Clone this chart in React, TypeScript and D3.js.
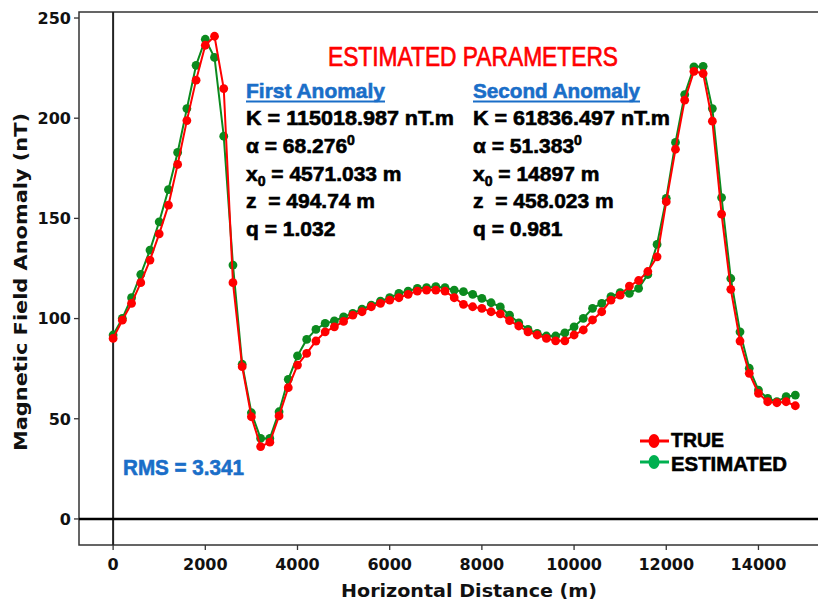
import React from "react";
import * as d3 from "d3";

const distance = [
  0, 200, 400, 600, 800, 1000, 1200, 1400, 1600, 1800, 2000, 2200, 2400, 2600, 2800,
  3000, 3200, 3400, 3600, 3800, 4000, 4200, 4400, 4600, 4800, 5000, 5200, 5400, 5600,
  5800, 6000, 6200, 6400, 6600, 6800, 7000, 7200, 7400, 7600, 7800, 8000, 8200, 8400,
  8600, 8800, 9000, 9200, 9400, 9600, 9800, 10000, 10200, 10400, 10600, 10800, 11000,
  11200, 11400, 11600, 11800, 12000, 12200, 12400, 12600, 12800, 13000, 13200, 13400,
  13600, 13800, 14000, 14200, 14400, 14600, 14800,
];

const trueValues = [
  90.1, 99.2, 107.6, 117.9, 129.2, 142.3, 156.6, 176.9, 198.8, 219, 236.4, 240.9, 214.8,
  117.9, 76, 51, 36.1, 38.3, 51.4, 65.5, 76.8, 82.6, 88.8, 93.4, 95.9, 98.6, 101.7, 103.4,
  105.9, 107.6, 109.2, 110.4, 112.1, 113.7, 114.2, 114.2, 113.7, 110.4, 107.1, 105.9,
  105.1, 103.4, 102.3, 99, 96.3, 93.4, 91.8, 90.1, 88.9, 88.9, 91.8, 94.3, 99.3, 103.4,
  109.2, 111.7, 116.2, 119, 123.5, 130.8, 158.3, 184.5, 209, 223.4, 222.3, 198.5, 152.1,
  114.6, 88.8, 72.7, 62.7, 58.5, 58, 58.5, 56.5,
];

const estimatedValues = [
  91.8, 100.1, 110.4, 122, 134.2, 148.3, 164.4, 182.9, 204.8, 226.4, 239.4, 230.3, 191,
  126.7, 77.2, 53, 40.2, 40.2, 53.5, 69.7, 81.4, 89.6, 94.6, 97.6, 98.8, 100.8, 102.6,
  104.7, 106.7, 108.7, 110.4, 112.6, 113.7, 115.1, 115.4, 115.9, 115.4, 114.2, 113.4,
  112.1, 110.1, 107.9, 105.8, 101.7, 97.9, 94.6, 92.6, 91.3, 91.3, 92.9, 95.9, 100.1,
  105.1, 107.6, 110.9, 112.9, 112.6, 115.1, 122, 137, 160, 187.9, 211.8, 225.6, 225.9,
  204.8, 160.4, 120, 93.4, 75.2, 64.3, 60.2, 58.5, 61, 61.8,
];

const xTicks = [0, 2000, 4000, 6000, 8000, 10000, 12000, 14000];
const yTicks = [0, 50, 100, 150, 200, 250];

const firstAnomaly = ["115018.987", "68.276", "4571.033", "494.74", "1.032"];
const secondAnomaly = ["61836.497", "51.383", "14897", "458.023", "0.981"];

const W = 818;
const H = 606;
const L = 79, R = 819, T = 12, B = 545;

const RED = "#ff0000";
const GREEN = "#0b8a1e";
const LEG_GREEN = "#00b050";
const BLUE = "#1a6ec8";

export default function App() {
  const x = d3.scaleLinear().domain([-740, 15270]).range([L, 817]);
  const y = d3.scaleLinear().domain([-13, 253]).range([B, T]);

  const line = d3
    .line<number>()
    .x((_, i) => x(distance[i]))
    .y((d) => y(d));

  const tickFont = "'DejaVu Sans', sans-serif";
  const textFont = "'Liberation Sans', Arial, sans-serif";

  const paramBlock = (vals: string[], x0: number, title: string, titleW: number, kW: number) => {
    const base = 125;
    const step = 27.8;
    const fs = 21;
    return (
      <g fontFamily={textFont} fontWeight="bold" fontSize={fs} fill="#000" stroke="#000" strokeWidth={0.6}>
        <text x={x0} y={98} fill={BLUE} stroke={BLUE} textLength={titleW} lengthAdjust="spacingAndGlyphs">
          {title}
        </text>
        <line x1={x0} x2={x0 + titleW} y1={101.5} y2={101.5} stroke={BLUE} strokeWidth={2} />
        <text x={x0} y={base} textLength={kW} lengthAdjust="spacingAndGlyphs">
          {`K = ${vals[0]} nT.m`}
        </text>
        <text x={x0} y={base + step}>
          {`α = ${vals[1]}`}
          <tspan fontSize={14} dy={-8}>0</tspan>
        </text>
        <text x={x0} y={base + step * 2}>
          {"x"}
          <tspan fontSize={14} dy={5}>0</tspan>
          <tspan dy={-5}>{` = ${vals[2]} m`}</tspan>
        </text>
        <text x={x0} y={base + step * 3} style={{ whiteSpace: "pre" }}>
          {`z  = ${vals[3]} m`}
        </text>
        <text x={x0} y={base + step * 4}>{`q = ${vals[4]}`}</text>
      </g>
    );
  };

  return (
    <svg
      width={W}
      height={H}
      style={{ position: "absolute", left: 0, top: 0, background: "#fff" }}
    >
      <rect x={0} y={0} width={W} height={H} fill="#fff" />
      {/* frame */}
      <rect x={L} y={T} width={R - L} height={B - T} fill="none" stroke="#333" strokeWidth={1.5} />

      {/* reference lines */}
      <line x1={x(0)} x2={x(0)} y1={T} y2={B} stroke="#222" strokeWidth={2} />
      <line x1={L} x2={R} y1={y(0)} y2={y(0)} stroke="#000" strokeWidth={2.5} />

      {/* y ticks */}
      {yTicks.map((t) => (
        <g key={"y" + t}>
          <line x1={L - 5} x2={L} y1={y(t)} y2={y(t)} stroke="#333" strokeWidth={1.3} />
          <text
            x={L - 8}
            y={y(t)}
            dy="0.36em"
            textAnchor="end"
            fontFamily={tickFont}
            fontWeight="bold"
            fontSize={16}
            fill="#111"
          >
            {t}
          </text>
        </g>
      ))}
      {/* x ticks */}
      {xTicks.map((t) => (
        <g key={"x" + t}>
          <line x1={x(t)} x2={x(t)} y1={B} y2={B + 5} stroke="#333" strokeWidth={1.3} />
          <text
            x={x(t)}
            y={570}
            textAnchor="middle"
            fontFamily={tickFont}
            fontWeight="bold"
            fontSize={16}
            fill="#111"
          >
            {t}
          </text>
        </g>
      ))}

      {/* axis labels */}
      <text
        x={469}
        y={597}
        textAnchor="middle"
        fontFamily={tickFont}
        fontWeight="bold"
        fontSize={18}
        fill="#111"
        textLength={256}
        lengthAdjust="spacingAndGlyphs"
      >
        Horizontal Distance (m)
      </text>
      <text
        transform="translate(27,282) rotate(-90)"
        textAnchor="middle"
        fontFamily={tickFont}
        fontWeight="bold"
        fontSize={18}
        fill="#111"
        textLength={338}
        lengthAdjust="spacingAndGlyphs"
      >
        Magnetic Field Anomaly (nT)
      </text>

      {/* series */}
      <path d={line(estimatedValues) || ""} fill="none" stroke={GREEN} strokeWidth={2} />
      {estimatedValues.map((v, i) => (
        <circle key={"g" + i} cx={x(distance[i])} cy={y(v)} r={4.4} fill={GREEN} />
      ))}
      <path d={line(trueValues) || ""} fill="none" stroke={RED} strokeWidth={2} />
      {trueValues.map((v, i) => (
        <circle key={"r" + i} cx={x(distance[i])} cy={y(v)} r={4.4} fill={RED} />
      ))}

      {/* title */}
      <text
        x={328}
        y={66}
        fontFamily={textFont}
        fontSize={27}
        fill={RED}
        stroke={RED}
        strokeWidth={0.7}
        textLength={290}
        lengthAdjust="spacingAndGlyphs"
      >
        ESTIMATED PARAMETERS
      </text>

      {paramBlock(firstAnomaly, 246, "First Anomaly", 139, 208)}
      {paramBlock(secondAnomaly, 473, "Second Anomaly", 167, 197)}

      {/* RMS */}
      <text
        x={123}
        y={475}
        fontFamily={textFont}
        fontWeight="bold"
        fontSize={22}
        fill={BLUE}
        stroke={BLUE}
        strokeWidth={0.6}
        textLength={121}
        lengthAdjust="spacingAndGlyphs"
      >
        RMS = 3.341
      </text>

      {/* legend */}
      <g>
        <line x1={640} x2={669} y1={441} y2={441} stroke={RED} strokeWidth={3} />
        <ellipse cx={654} cy={441} rx={5.5} ry={7} fill={RED} />
        <text
          x={671}
          y={447}
          fontFamily={textFont}
          fontWeight="bold"
          fontSize={21}
          fill="#000"
          stroke="#000"
          strokeWidth={0.6}
          textLength={53}
          lengthAdjust="spacingAndGlyphs"
        >
          TRUE
        </text>
        <line x1={640} x2={669} y1={462} y2={462} stroke={LEG_GREEN} strokeWidth={3} />
        <ellipse cx={654} cy={462} rx={5.5} ry={7} fill={LEG_GREEN} />
        <text
          x={671}
          y={471}
          fontFamily={textFont}
          fontWeight="bold"
          fontSize={21}
          fill="#000"
          stroke="#000"
          strokeWidth={0.6}
          textLength={116}
          lengthAdjust="spacingAndGlyphs"
        >
          ESTIMATED
        </text>
      </g>
    </svg>
  );
}
